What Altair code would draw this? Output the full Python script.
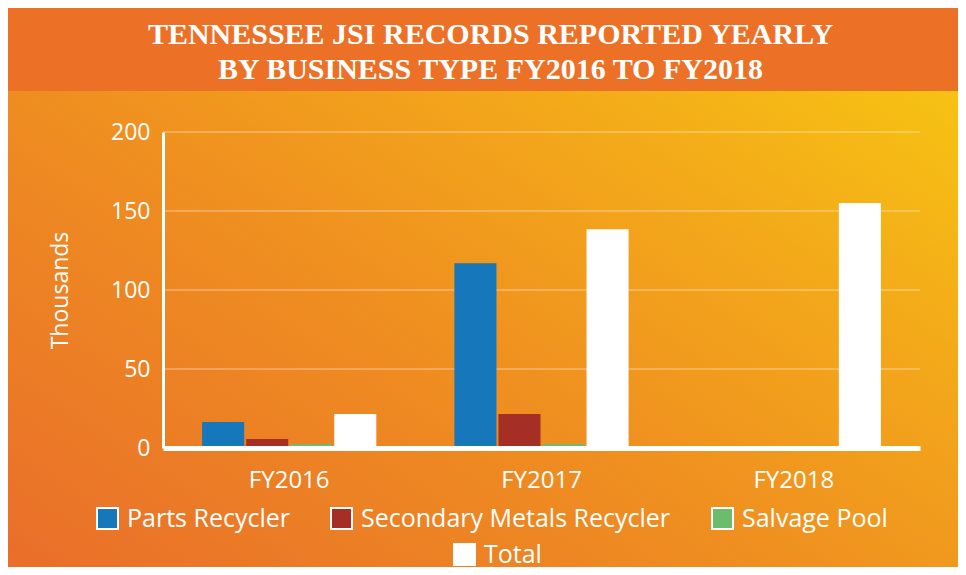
import altair as alt
import pandas as pd

# ---- data ----
years = ["FY2016", "FY2017", "FY2018"]
series = ["Parts Recycler", "Secondary Metals Recycler", "Salvage Pool", "Total"]
parts = [16.5, 117.0, 0.0]
secondary = [5.7, 21.5, 0.0]
salvage = [2.5, 2.5, 0.0]
total = [21.5, 138.5, 155.0]
y_ticks = [0, 50, 100, 150, 200]
series_colors = ["#1777BB", "#A52E25", "#6BBD6D"]
title_lines = ["TENNESSEE JSI RECORDS REPORTED YEARLY", "BY BUSINESS TYPE FY2016 TO FY2018"]

rows = []
for s, vals in zip(series, [parts, secondary, salvage, total]):
    for yr, v in zip(years, vals):
        rows.append({"year": yr, "series": s, "value": v})
df = pd.DataFrame(rows)
grid_df = pd.DataFrame({"value": y_ticks[1:]})
one = pd.DataFrame({"k": [0]})

# ---- layout ----
W, H = 757, 316
PL, PT, PR, PB = 155, 124, 38, 119
FONT = "Open Sans"

y_scale = alt.Scale(domain=[0, 200], nice=False)
y_axis = alt.Axis(values=y_ticks, grid=False, title="Thousands", domainWidth=3,
                  labelFontSize=23, labelPadding=13, titleFontSize=23,
                  titleFontWeight="normal", titlePadding=38, zindex=1)
x_scale = alt.Scale(paddingInner=0.3095, paddingOuter=0.155)
x_axis = alt.Axis(title=None, labelAngle=0, domainWidth=5, labelFontSize=24,
                  labelPadding=20, zindex=1)
xo = alt.XOffset("series:N", sort=series,
                 scale=alt.Scale(domain=series, paddingInner=0.045, paddingOuter=0))

grad = alt.LinearGradient(
    gradient="linear",
    stops=[alt.GradientStop(color="#E96E2A", offset=0),
           alt.GradientStop(color="#EF8F20", offset=0.45),
           alt.GradientStop(color="#F3A81A", offset=0.72),
           alt.GradientStop(color="#F7C512", offset=1)],
    x1=0, y1=1, x2=1, y2=0.1)

bg = alt.Chart(one).mark_rect(fill=grad).encode(
    x=alt.value(-PL), x2=alt.value(W + PR), y=alt.value(-PT), y2=alt.value(H + PB))
band = alt.Chart(one).mark_rect(fill="#EC7126").encode(
    x=alt.value(-PL), x2=alt.value(W + PR), y=alt.value(-PT), y2=alt.value(-41))
title = alt.Chart(one).mark_text(
    text=title_lines, font="Liberation Serif", fontSize=30, fontWeight="bold",
    color="white", align="center", baseline="alphabetic", lineHeight=35,
).encode(x=alt.value(327.5), y=alt.value(-88.5))

grid = alt.Chart(grid_df).mark_rule(color="white", opacity=0.25, strokeWidth=2).encode(
    y=alt.Y("value:Q", scale=y_scale, axis=y_axis),
    x=alt.value(0), x2=alt.value(W))

bars = alt.Chart(df).transform_filter(alt.datum.series != "Total").mark_bar().encode(
    x=alt.X("year:N", sort=years, scale=x_scale, axis=x_axis),
    xOffset=xo,
    y=alt.Y("value:Q", scale=y_scale, axis=y_axis),
    color=alt.Color("series:N", sort=series[:3],
                    scale=alt.Scale(domain=series[:3], range=series_colors),
                    legend=alt.Legend(orient="none", legendX=-68, legendY=374,
                                      direction="horizontal", title=None)),
)

tot = alt.Chart(df).transform_filter(alt.datum.series == "Total").mark_bar().encode(
    x=alt.X("year:N", sort=years, scale=x_scale, axis=x_axis),
    xOffset=xo,
    y=alt.Y("value:Q", scale=y_scale, axis=y_axis),
    fill=alt.Fill("series:N", scale=alt.Scale(domain=["Total"], range=["#FFFFFF"]),
                  legend=alt.Legend(orient="none", legendX=289, legendY=410,
                                    direction="horizontal", title=None)),
)

chart = alt.layer(bg, band, title, grid, bars, tot).properties(
    width=W, height=H,
    autosize=alt.AutoSizeParams(type="none"),
    padding={"left": PL, "top": PT, "right": PR, "bottom": PB},
    background="#EE8A22",
).configure_view(stroke="transparent").configure_axis(
    labelFont=FONT, titleFont=FONT, labelColor="white", titleColor="white",
    domainColor="white", ticks=False,
).configure_legend(
    labelFont=FONT, labelFontSize=25, labelColor="white", symbolType="square",
    symbolSize=441, symbolStrokeColor="white", symbolStrokeWidth=2,
    symbolOpacity=1, labelOffset=7, columnPadding=37, padding=0, labelLimit=400,
)

chart.save("out.html", embed_options={"renderer": "svg", "actions": False})
